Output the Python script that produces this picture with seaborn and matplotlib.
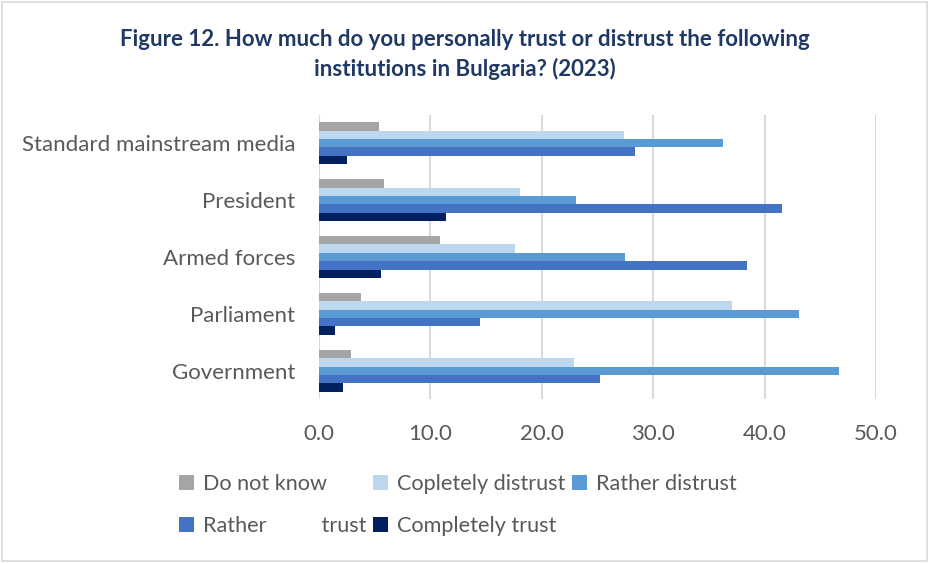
import matplotlib
matplotlib.use("Agg")
import matplotlib.pyplot as plt
from matplotlib.patches import Rectangle, Patch
import pandas as pd
import seaborn as sns

institutions = ["Standard mainstream media", "President", "Armed forces",
                "Parliament", "Government"]
responses = ["Do not know", "Copletely distrust", "Rather distrust",
             "Rather trust", "Completely trust"]
legend_labels = ["Do not know", "Copletely distrust", "Rather distrust",
                 "Rather          trust", "Completely trust"]

do_not_know = [5.4, 5.9, 10.9, 3.8, 2.9]
completely_distrust = [27.4, 18.1, 17.6, 37.1, 22.9]
rather_distrust = [36.3, 23.1, 27.5, 43.1, 46.7]
rather_trust = [28.4, 41.6, 38.4, 14.5, 25.2]
completely_trust = [2.5, 11.4, 5.6, 1.5, 2.2]

x_ticks = [0, 10, 20, 30, 40, 50]
colors = ["#A5A5A5", "#BDD7EE", "#5B9BD5", "#4472C4", "#002060"]

series = [do_not_know, completely_distrust, rather_distrust,
          rather_trust, completely_trust]
rows = []
for resp, vals in zip(responses, series):
    for inst, v in zip(institutions, vals):
        rows.append({"institution": inst, "response": resp, "value": v})
df = pd.DataFrame(rows)

sns.set_theme(style="white")
plt.rcParams["font.family"] = ["Lato", "DejaVu Sans"]

fig = plt.figure(figsize=(9.29, 5.63), dpi=100)
ax = fig.add_axes([0.343, 0.291, 0.6, 0.505])

sns.barplot(data=df, x="value", y="institution", hue="response",
            hue_order=responses, order=institutions, palette=colors,
            width=0.74, gap=0, errorbar=None, legend=False, ax=ax,
            saturation=1, linewidth=0)

ax.set_xlim(0, 50)
ax.set_xticks(x_ticks)
ax.set_xticklabels([f"{t:.1f}" for t in x_ticks])
ax.set_xlabel("")
ax.set_ylabel("")
ax.grid(axis="x", color="#D9D9D9", linewidth=1.5)
ax.set_axisbelow(True)
for s in ax.spines.values():
    s.set_visible(False)
ax.tick_params(axis="both", length=0, labelsize=16, colors="#595959")
ax.tick_params(axis="x", pad=18)
ax.tick_params(axis="y", pad=17)

fig.text(0.5, 0.948, "Figure 12. How much do you personally trust or distrust the following\ninstitutions in Bulgaria? (2023)",
         ha="center", va="top", fontsize=16, fontweight="bold",
         color="#1F3864", linespacing=1.4)

# legend, filled column-wise so that rows read left to right
handles = [Patch(facecolor=c, edgecolor="none") for c in colors]
order = [0, 3, 1, 4, 2]
fig.legend([handles[i] for i in order], [legend_labels[i] for i in order],
           ncol=3, loc="upper left", bbox_to_anchor=(0.172, 0.192),
           frameon=False, fontsize=15.6, labelcolor="#595959",
           handlelength=0.7, handleheight=0.7, handletextpad=0.4,
           columnspacing=0.3, labelspacing=1.0)

fig.add_artist(Rectangle((0.002, 0.003), 0.996, 0.994, transform=fig.transFigure,
                         fill=False, edgecolor="#D9D9D9", linewidth=1.2))

fig.savefig("out.png", dpi=100)
